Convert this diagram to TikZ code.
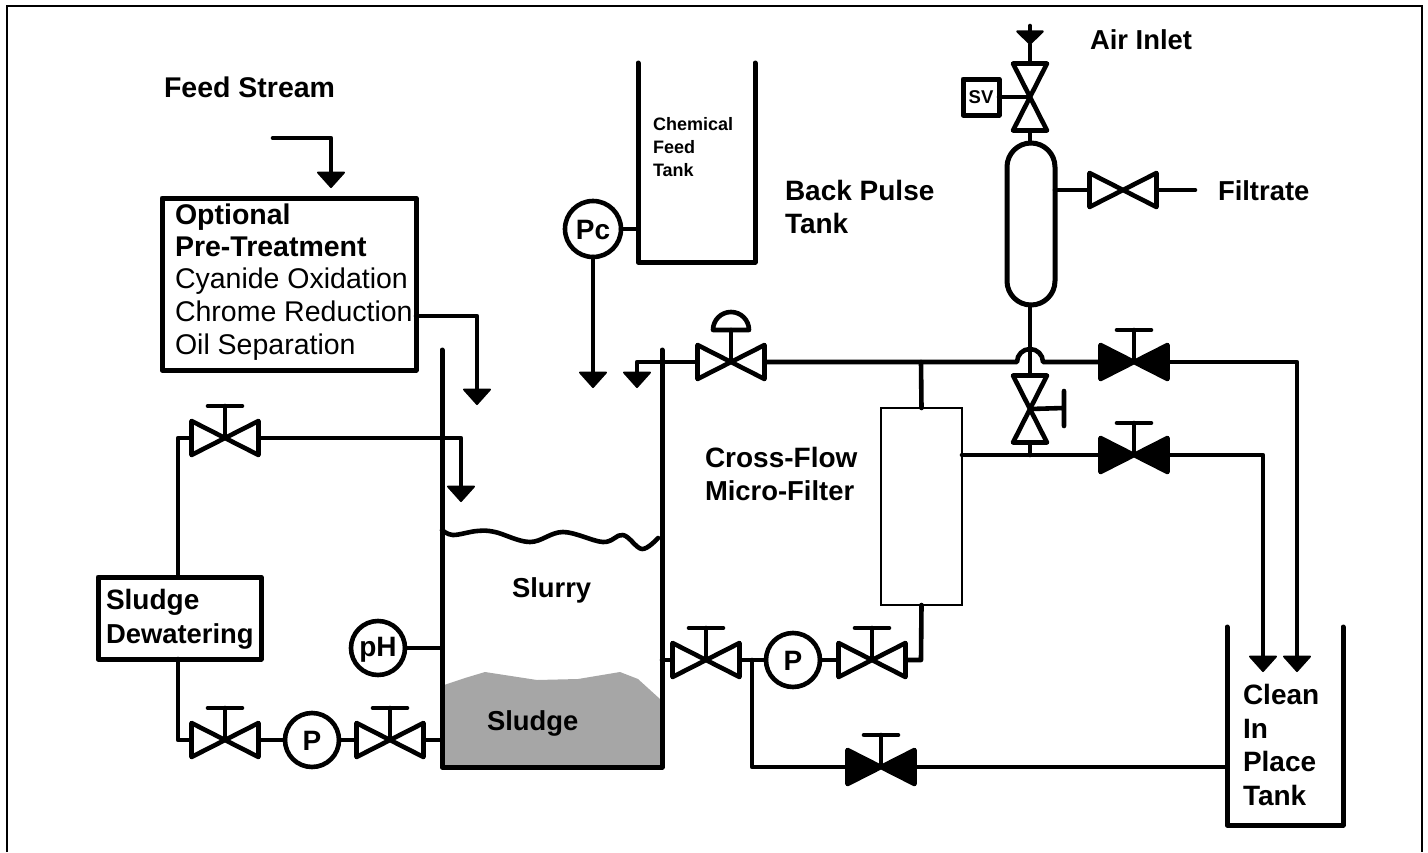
\documentclass[tikz,border=0pt]{standalone}
\usepackage{fontspec}
\setmainfont{Liberation Sans}
\usetikzlibrary{arrows.meta}
\tikzset{
  pipe/.style={line width=4.6pt,line cap=round,line join=round},
  wall/.style={line width=5pt,line cap=round,line join=round},
  flow/.style={pipe,-{Triangle[width=30pt,length=17pt,round,line width=2pt]}},
  vh/.style={inner sep=0pt,outer sep=0pt,minimum width=67pt,minimum height=34pt},
  vv/.style={inner sep=0pt,outer sep=0pt,minimum width=34pt,minimum height=67pt},
  open/.style={fill=white},
  shut/.style={fill=black},
  inst/.style={circle,draw,line width=4.6pt,fill=white,inner sep=0pt,outer sep=0pt,minimum size=54pt,text height=20pt,text depth=0pt,font=\fontsize{28}{32}\selectfont\bfseries},
  boxn/.style={rectangle,draw,line width=5pt,inner sep=0pt,outer sep=0pt,line join=round},
  big/.style={inner sep=0pt,outer sep=0pt,anchor=base west,align=left,font=\fontsize{28}{33}\selectfont\bfseries},
  bigw/.style={big,font=\fontsize{28.5}{33}\selectfont\bfseries},
  bign/.style={big,font=\fontsize{27.4}{33}\selectfont\bfseries},
  reg/.style={big,font=\fontsize{28.5}{33}\selectfont},
  small/.style={inner sep=0pt,outer sep=0pt,anchor=base west,align=left,font=\fontsize{18}{23}\selectfont\bfseries}
}
\newcommand{\bowH}[4]{\node[vh] (#1) at (#2,#3) {};
  \draw[pipe,#4] (#1.center) -- (#1.north west) -- (#1.south west) -- cycle
                 (#1.center) -- (#1.north east) -- (#1.south east) -- cycle;}
\newcommand{\bowV}[4]{\node[vv] (#1) at (#2,#3) {};
  \draw[pipe,#4] (#1.center) -- (#1.north west) -- (#1.north east) -- cycle
                 (#1.center) -- (#1.south west) -- (#1.south east) -- cycle;}
\newcommand{\handUp}[1]{\draw[pipe] (#1.center) -- ++(0,-32) ++(-17,0) -- ++(34,0);}
\begin{document}
\begin{tikzpicture}[x=1pt,y=-1pt]
\useasboundingbox (0,0) rectangle (1428,852);
% frame
\draw[line width=2.8pt] (7,852) -- (7,6) -- (1422,6) -- (1422,852);
% sludge
\fill[black!35] (444,685) -- (465,678) -- (485,672) -- (537,680) -- (578,679) -- (620,672) -- (638,679) -- (660,699) -- (660,767) -- (444,767) -- cycle;
% slurry surface
\draw[pipe] plot[smooth,tension=0.6] coordinates {(442,530) (453,535) (477,531) (495,532) (530,542) (563,532) (603,542) (623,535) (642,549) (658,538)};
% main tank
\coordinate (mtA) at (442,350);
\coordinate (mtB) at (442,767);
\coordinate (mtC) at (662,767);
\coordinate (mtD) at (662,350);
\draw[wall] (mtA) -- (mtB) -- (mtC) -- (mtD);
% chemical tank
\coordinate (ctA) at (638,63);
\coordinate (ctB) at (638,262);
\coordinate (ctC) at (755,262);
\coordinate (ctD) at (755,63);
\draw[wall] (ctA) -- (ctB) -- (ctC) -- (ctD);
% clean in place tank
\coordinate (ciA) at (1227,627);
\coordinate (ciB) at (1227,825);
\coordinate (ciC) at (1343,825);
\coordinate (ciD) at (1343,627);
\draw[wall] (ciA) -- (ciB) -- (ciC) -- (ciD);
% feed
\coordinate (feedS) at (273,138);
\coordinate (feedK) at (331,138);
\coordinate (feedE) at (331,188);
\draw[flow] (feedS) -- (feedK) -- (feedE);
% pre-treatment box
\node[boxn,minimum width=254pt,minimum height=172pt] (opt) at (289,284) {};
\node[bigw] (optA) at (175,224) {Optional};
\node[bigw] (optB) at (175,256) {Pre-Treatment};
\node[reg] (optC) at (175,288) {Cyanide Oxidation};
\node[reg] (optD) at (175,321) {Chrome Reduction};
\node[reg] (optE) at (175,354) {Oil Separation};
\coordinate (optO) at (416,316);
\coordinate (optK) at (477,316);
\coordinate (optT) at (477,405);
\draw[flow] (optO) -- (optK) -- (optT);
% Pc
\node[inst,minimum size=56pt] (pc) at (593,229) {Pc};
\coordinate (pcT) at (638,229);
\draw[pipe] (pc) -- (pcT);
\coordinate (pcH) at (593,388);
\draw[flow] (pc) -- (pcH);
% back pulse valve
\bowH{vb}{731}{362}{open}
\coordinate (dK) at (637,362);
\coordinate (dH) at (637,388);
\draw[flow] (vb.west) -- (dK) -- (dH);
\coordinate (vbS) at (731,330);
\draw[pipe] (vb.center) -- (vbS);
\draw[pipe] (713,330) arc[start angle=180,end angle=0,radius=18pt] -- cycle;
% air inlet and back pulse tank
\coordinate (airT) at (1030,26);
\coordinate (airH) at (1030,45);
\draw[pipe,-{Triangle[width=30pt,length=15pt,round,line width=2pt]}] (airT) -- (airH);
\bowV{va}{1030}{97}{open}
\draw[pipe] (airH) -- (va.north);
\node[boxn,minimum width=36pt,minimum height=36pt,font=\fontsize{18.5}{20}\selectfont\bfseries] (sv) at (981,97) {SV};
\draw[pipe] (sv.east) -- (va.center);
\draw[wall] (1007,167) arc[start angle=180,end angle=0,radius=24pt] -- (1055,281) arc[start angle=0,end angle=-180,radius=24pt] -- cycle;
\coordinate (bpT) at (1030,143);
\coordinate (bpB) at (1030,305);
\draw[pipe] (va.south) -- (bpT);
\coordinate (bpR) at (1055,190);
\bowH{vf}{1123}{190}{open}
\coordinate (fout) at (1195,190);
\draw[pipe] (bpR) -- (vf.west) (vf.east) -- (fout);
% main header
\bowH{vs1}{1134}{362}{shut}
\coordinate (h1) at (1017,362);
\coordinate (h2) at (1043,362);
\draw[pipe] (vb.east) -- (h1) arc[start angle=180,end angle=0,radius=13pt] -- (vs1.west);
\handUp{vs1}
\coordinate (k1) at (1297,362);
\coordinate (t1) at (1297,672);
\draw[flow] (vs1.east) -- (k1) -- (t1);
% filter
\node[draw,line width=2pt,inner sep=0pt,outer sep=0pt,minimum width=81pt,minimum height=197pt] (fil) at (921.5,506.5) {};
\coordinate (j1) at (921,362);
\draw[pipe] (j1) -- (fil.north);
% isolation valve
\bowV{vi}{1030}{409}{open}
\draw[pipe] (bpB) -- (vi.north);
\coordinate (viH) at (1064,408);
\draw[pipe] (vi.center) -- (viH) (1064,391) -- (1064,426);
% second line
\bowH{vs2}{1134}{455}{shut}
\coordinate (filO) at (962,455);
\draw[pipe] (filO) -- (vs2.west);
\handUp{vs2}
\coordinate (j2) at (1030,455);
\draw[pipe] (vi.south) -- (j2);
\coordinate (k2) at (1263,455);
\coordinate (t2) at (1263,672);
\draw[flow] (vs2.east) -- (k2) -- (t2);
% recirculation
\bowH{vr1}{706}{660}{open}
\node[inst] (p1) at (793,660) {P};
\bowH{vr2}{872}{660}{open}
\handUp{vr1}
\handUp{vr2}
\coordinate (mtO) at (662,660);
\coordinate (filK) at (921,660);
\draw[pipe] (mtO) -- (vr1.west) (vr1.east) -- (p1) (p1) -- (vr2.west);
\draw[pipe] (vr2.east) -- (filK) -- (fil.south);
\coordinate (j3) at (752,660);
\coordinate (k3) at (752,767);
\coordinate (ciI) at (1227,767);
\bowH{vs3}{881}{767}{shut}
\handUp{vs3}
\draw[pipe] (j3) -- (k3) -- (vs3.west) (vs3.east) -- (ciI);
% pH
\node[inst,text height=17pt] (ph) at (378,648) {pH};
\coordinate (phT) at (442,648);
\draw[pipe] (ph) -- (phT);
% sludge line
\bowH{vl3}{390}{740}{open}
\node[inst] (p2) at (312,740) {P};
\bowH{vl2}{225}{740}{open}
\handUp{vl3}
\handUp{vl2}
\coordinate (mtS) at (442,740);
\draw[pipe] (mtS) -- (vl3.east) (vl3.west) -- (p2) (p2) -- (vl2.east);
% dewatering
\node[boxn,fill=white,minimum width=163pt,minimum height=82pt] (dew) at (179.5,618) {};
\node[big] (dewA) at (106,609) {Sludge};
\node[bign] (dewB) at (106,643) {Dewatering};
\coordinate (dk1) at (178,740);
\draw[pipe] (vl2.west) -- (dk1) -- (dk1 |- dew.south);
% return
\bowH{vl1}{225}{438}{open}
\handUp{vl1}
\coordinate (dk2) at (178,438);
\draw[pipe] (dk2 |- dew.north) -- (dk2) -- (vl1.west);
\coordinate (rk) at (461,438);
\coordinate (rh) at (461,502);
\draw[flow] (vl1.east) -- (rk) -- (rh);
% labels
\node[bigw] (lfeed) at (164,97) {Feed Stream};
\node[small] (lc1) at (653,130) {Chemical};
\node[small] (lc2) at (653,153) {Feed};
\node[small] (lc3) at (653,176) {Tank};
\node[big] (lb1) at (785,200) {Back Pulse};
\node[big] (lb2) at (785,233) {Tank};
\node[bign] (lair) at (1090,49) {Air Inlet};
\node[bign] (lfil) at (1218,200) {Filtrate};
\node[big] (lx1) at (705,467) {Cross-Flow};
\node[bign] (lx2) at (705,500) {Micro-Filter};
\node[bign] (lsl) at (512,597) {Slurry};
\node[bign] (lsd) at (487,730) {Sludge};
\node[big] (lcl1) at (1243,704) {Clean};
\node[big] (lcl2) at (1243,738) {In};
\node[big] (lcl3) at (1243,771) {Place};
\node[big] (lcl4) at (1243,805) {Tank};
\end{tikzpicture}
\end{document}
